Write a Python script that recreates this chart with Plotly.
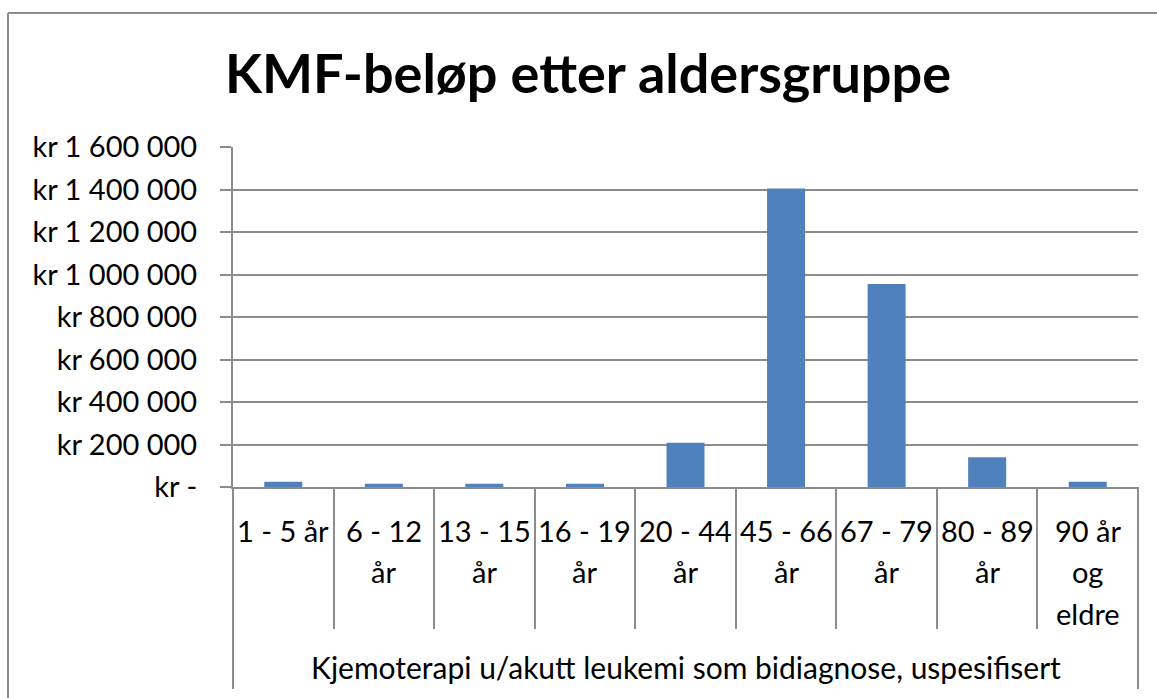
import plotly.graph_objects as go

# ---- data ----
categories = ["1 - 5 år", "6 - 12 år", "13 - 15 år", "16 - 19 år", "20 - 44 år",
              "45 - 66 år", "67 - 79 år", "80 - 89 år", "90 år og eldre"]
label_lines = [["1 - 5 år"], ["6 - 12", "år"], ["13 - 15", "år"], ["16 - 19", "år"],
               ["20 - 44", "år"], ["45 - 66", "år"], ["67 - 79", "år"], ["80 - 89", "år"],
               ["90 år", "og", "eldre"]]
amounts = [25000, 15000, 15000, 15000, 208000, 1405000, 955000, 140000, 25000]
group_label = "Kjemoterapi u/akutt leukemi som bidiagnose, uspesifisert"
y_tickvals = [0, 200000, 400000, 600000, 800000, 1000000, 1200000, 1400000, 1600000]
y_ticktext = ["kr -", "kr 200 000", "kr 400 000", "kr 600 000", "kr 800 000",
              "kr 1 000 000", "kr 1 200 000", "kr 1 400 000", "kr 1 600 000"]
title_text = "KMF-beløp etter aldersgruppe"

# ---- layout geometry (pixels) ----
W, H = 1157, 698
PL, PR, PT, PB = 233, 1138, 147, 487
pw, ph = PR - PL, PB - PT

def px_x(px):
    return (px - PL) / pw

def px_y(py):
    return (PB - py) / ph

GRID = "#8c8c8c"
FONT = "Lato"

fig = go.Figure(go.Bar(x=categories, y=amounts, marker=dict(color="#4F81BD", line=dict(width=0)),
                       hoverinfo="skip"))

annotations = []
line_centers = [530, 571.5, 613]
for cat, lines in zip(categories, label_lines):
    for i, ln in enumerate(lines):
        annotations.append(dict(x=cat, xref="x", y=px_y(line_centers[i]), yref="paper",
                                text=ln, showarrow=False, xanchor="center", yanchor="middle",
                                font=dict(family=FONT, size=29, color="black")))
annotations.append(dict(x=0.5, xref="paper", y=px_y(667), yref="paper", text=group_label,
                        showarrow=False, xanchor="center", yanchor="middle",
                        font=dict(family=FONT, size=30, color="black")))

shapes = [
    # outer chart border (left and top visible)
    dict(type="line", xref="paper", yref="paper", x0=px_x(8), x1=px_x(8), y0=px_y(13), y1=px_y(700),
         line=dict(color=GRID, width=2)),
    dict(type="line", xref="paper", yref="paper", x0=px_x(8), x1=px_x(1160), y0=px_y(13), y1=px_y(13),
         line=dict(color=GRID, width=2)),
    # outer group boundaries on category axis
    dict(type="line", xref="paper", yref="paper", x0=0, x1=0, y0=0, y1=px_y(689),
         line=dict(color=GRID, width=2)),
    dict(type="line", xref="paper", yref="paper", x0=1, x1=1, y0=0, y1=px_y(689),
         line=dict(color=GRID, width=2)),
]

fig.update_layout(
    width=W, height=H,
    margin=dict(l=PL, r=W - PR, t=PT, b=H - PB, autoexpand=False),
    paper_bgcolor="white", plot_bgcolor="white",
    showlegend=False,
    bargap=0.622,
    title=dict(text=f"<b>{title_text}</b>", x=588 / W, xref="container", xanchor="center",
               y=1 - 74 / H, yref="container", yanchor="middle",
               font=dict(family=FONT, size=54, color="black")),
    annotations=annotations,
    shapes=shapes,
)
fig.update_xaxes(type="category", range=[-0.5, len(categories) - 0.5], showticklabels=False,
                 ticks="outside", tickson="boundaries", ticklen=140, tickwidth=2, tickcolor=GRID,
                 showline=True, linecolor=GRID, linewidth=2, showgrid=False, fixedrange=True)
fig.update_yaxes(range=[0, 1600000], tickvals=y_tickvals, ticktext=y_ticktext,
                 ticks="outside", ticklen=11, tickwidth=2, tickcolor=GRID,
                 showline=True, linecolor=GRID, linewidth=2,
                 showgrid=True, gridcolor=GRID, gridwidth=2, zeroline=False,
                 ticklabelstandoff=17,
                 tickfont=dict(family=FONT, size=29, color="black"), fixedrange=True)

fig.write_html("out.html", config={"displayModeBar": False},
               post_script="document.body.style.margin='0';document.body.style.overflow='hidden';")
